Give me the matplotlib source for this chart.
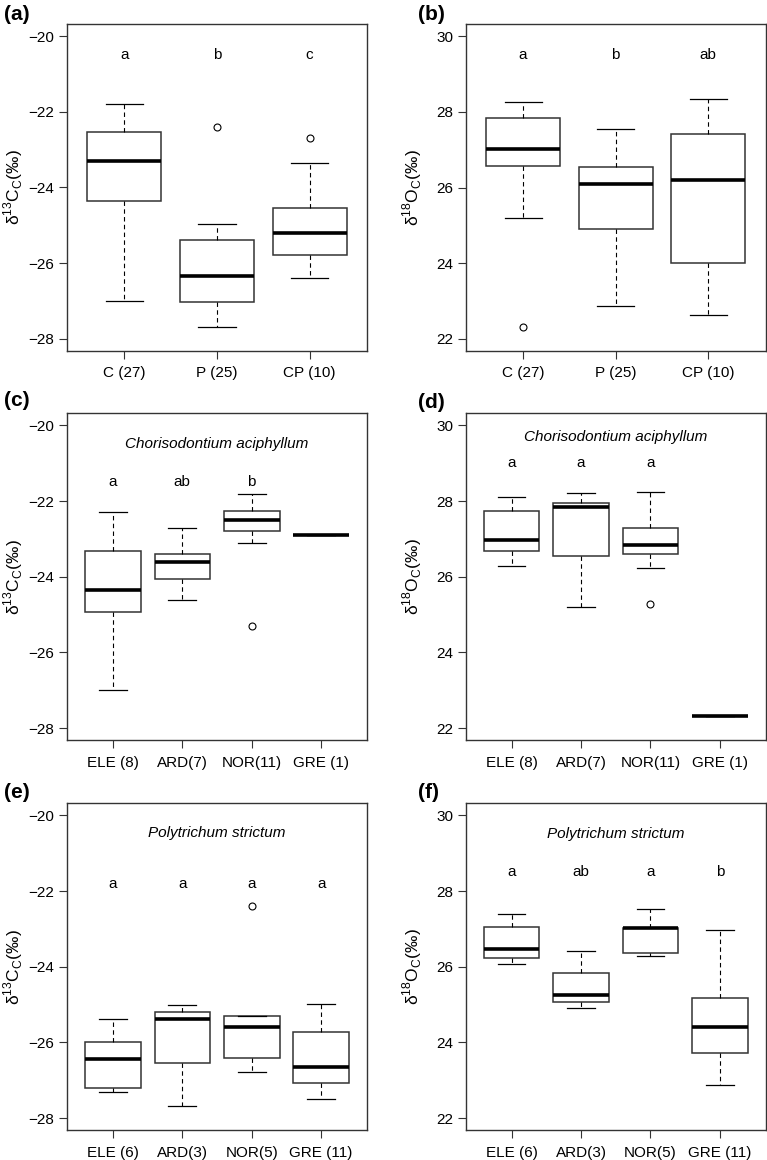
import matplotlib
matplotlib.use("Agg")
import matplotlib.pyplot as plt

plt.rcParams['font.family'] = ['Liberation Sans', 'DejaVu Sans']
plt.rcParams['axes.unicode_minus'] = True

# ---------------- data ----------------
# Panel (a): d13C by group
a_cats = ["C (27)", "P (25)", "CP (10)"]
a_whislo = [-26.99, -27.69, -26.38]
a_q1 = [-24.35, -27.03, -25.78]
a_med = [-23.29, -26.34, -25.19]
a_q3 = [-22.54, -25.38, -24.55]
a_whishi = [-21.79, -24.97, -23.34]
a_fliers = [[], [-22.39], [-22.69]]
a_letters = ["a", "b", "c"]

# Panel (b): d18O by group
b_cats = ["C (27)", "P (25)", "CP (10)"]
b_whislo = [25.20, 22.87, 22.64]
b_q1 = [26.58, 24.91, 24.01]
b_med = [27.01, 26.09, 26.20]
b_q3 = [27.83, 26.53, 27.41]
b_whishi = [28.26, 27.54, 28.33]
b_fliers = [[22.32], [], []]
b_letters = ["a", "b", "ab"]

# Panel (c): Chorisodontium aciphyllum d13C
c_cats = ["ELE (8)", "ARD(7)", "NOR(11)", "GRE (1)"]
c_whislo = [-27.00, -24.60, -23.10, -22.90]
c_q1 = [-24.94, -24.05, -22.80, -22.90]
c_med = [-24.35, -23.60, -22.50, -22.90]
c_q3 = [-23.31, -23.40, -22.27, -22.90]
c_whishi = [-22.30, -22.70, -21.81, -22.90]
c_fliers = [[], [], [-25.30], []]
c_letters = ["a", "ab", "b", ""]

# Panel (d): Chorisodontium aciphyllum d18O
d_cats = ["ELE (8)", "ARD(7)", "NOR(11)", "GRE (1)"]
d_whislo = [26.29, 25.19, 26.24, 22.31]
d_q1 = [26.68, 26.56, 26.61, 22.31]
d_med = [26.97, 27.84, 26.84, 22.31]
d_q3 = [27.73, 27.96, 27.28, 22.31]
d_whishi = [28.11, 28.21, 28.25, 22.31]
d_fliers = [[], [], [25.28], []]
d_letters = ["a", "a", "a", ""]

# Panel (e): Polytrichum strictum d13C
e_cats = ["ELE (6)", "ARD(3)", "NOR(5)", "GRE (11)"]
e_whislo = [-27.30, -27.69, -26.79, -27.48]
e_q1 = [-27.19, -26.54, -26.40, -27.08]
e_med = [-26.44, -25.39, -25.59, -26.65]
e_q3 = [-26.00, -25.20, -25.30, -25.73]
e_whishi = [-25.39, -25.00, -25.30, -24.98]
e_fliers = [[], [], [-22.40], []]
e_letters = ["a", "a", "a", "a"]

# Panel (f): Polytrichum strictum d18O
f_cats = ["ELE (6)", "ARD(3)", "NOR(5)", "GRE (11)"]
f_whislo = [26.08, 24.91, 26.28, 22.87]
f_q1 = [26.24, 25.07, 26.36, 23.72]
f_med = [26.48, 25.25, 27.02, 24.41]
f_q3 = [27.04, 25.83, 27.03, 25.17]
f_whishi = [27.40, 26.42, 27.53, 26.97]
f_fliers = [[], [], [], []]
f_letters = ["a", "ab", "a", "b"]

c13_ticks = [-28, -26, -24, -22, -20]
o18_ticks = [22, 24, 26, 28, 30]

lab_c = r'δ$^{\mathregular{13}}$C$_{\mathregular{C}}$(‰)'
lab_o = r'δ$^{\mathregular{18}}$O$_{\mathregular{C}}$(‰)'

panels = [
    ("(a)", a_cats, a_whislo, a_q1, a_med, a_q3, a_whishi, a_fliers, a_letters, -20.5, None, None, c13_ticks, lab_c),
    ("(b)", b_cats, b_whislo, b_q1, b_med, b_q3, b_whishi, b_fliers, b_letters, 29.5, None, None, o18_ticks, lab_o),
    ("(c)", c_cats, c_whislo, c_q1, c_med, c_q3, c_whishi, c_fliers, c_letters, -21.5, "Chorisodontium aciphyllum", -20.5, c13_ticks, lab_c),
    ("(d)", d_cats, d_whislo, d_q1, d_med, d_q3, d_whishi, d_fliers, d_letters, 29.0, "Chorisodontium aciphyllum", 29.7, o18_ticks, lab_o),
    ("(e)", e_cats, e_whislo, e_q1, e_med, e_q3, e_whishi, e_fliers, e_letters, -21.8, "Polytrichum strictum", -20.47, c13_ticks, lab_c),
    ("(f)", f_cats, f_whislo, f_q1, f_med, f_q3, f_whishi, f_fliers, f_letters, 28.5, "Polytrichum strictum", 29.5, o18_ticks, lab_o),
]

W, H = 767, 1160
fig = plt.figure(figsize=(W / 100, H / 100), dpi=100)

col_left = [67, 465.7]
col_w = 300
row_top = [24, 413.3, 803.3]
ax_h = 327
lab_pos = [(4, 15), (418, 15), (4, 400), (418, 402), (4, 792), (418, 793)]

edge = '#333333'
for i, (tag, cats, wlo, q1, med, q3, whi, fl, letters, ly, title, ty, ticks, ylab) in enumerate(panels):
    r, c = divmod(i, 2)
    ax = fig.add_axes([col_left[c] / W, 1 - (row_top[r] + ax_h) / H, col_w / W, ax_h / H])
    stats = []
    for k in range(len(cats)):
        stats.append(dict(med=med[k], q1=q1[k], q3=q3[k], whislo=wlo[k], whishi=whi[k], fliers=fl[k]))
    pos = list(range(1, len(cats) + 1))
    ax.bxp(stats, positions=pos, widths=0.8, capwidths=0.4, patch_artist=True,
           boxprops=dict(facecolor='white', edgecolor=edge, linewidth=1.1),
           medianprops=dict(color='black', linewidth=2.6, solid_capstyle='butt'),
           whiskerprops=dict(color='black', linewidth=0.8, linestyle=(0, (4, 3))),
           capprops=dict(color='black', linewidth=0.9),
           flierprops=dict(marker='o', markerfacecolor='none', markeredgecolor='black',
                           markersize=5, markeredgewidth=0.8))
    n = len(cats)
    ext = 0.04 * n
    ax.set_xlim(0.5 - ext, n + 0.5 + ext)
    lo, hi = ticks[0], ticks[-1]
    ax.set_ylim(lo - 0.04 * (hi - lo), hi + 0.04 * (hi - lo))
    ax.set_xticks(pos)
    ax.set_xticklabels(cats)
    ax.set_yticks(ticks)
    ax.tick_params(direction='out', length=6, width=0.8, labelsize=11, color=edge)
    ax.tick_params(axis='x', pad=5)
    ax.tick_params(axis='y', pad=3)
    for s in ax.spines.values():
        s.set_color(edge)
        s.set_linewidth(1.0)
    for k, L in enumerate(letters):
        if L:
            ax.text(pos[k], ly, L, ha='center', va='center', fontsize=11)
    if title:
        ax.text((n + 1) / 2, ty, title, ha='center', va='center', fontsize=11, style='italic')
    ax.set_ylabel(ylab, fontsize=12.5)
    ax.yaxis.set_label_coords(-0.14, 0.5)
    fig.text(lab_pos[i][0] / W, 1 - lab_pos[i][1] / H, tag, ha='left', va='center',
             fontsize=15, fontweight='bold')

fig.savefig("out.png", dpi=100)
